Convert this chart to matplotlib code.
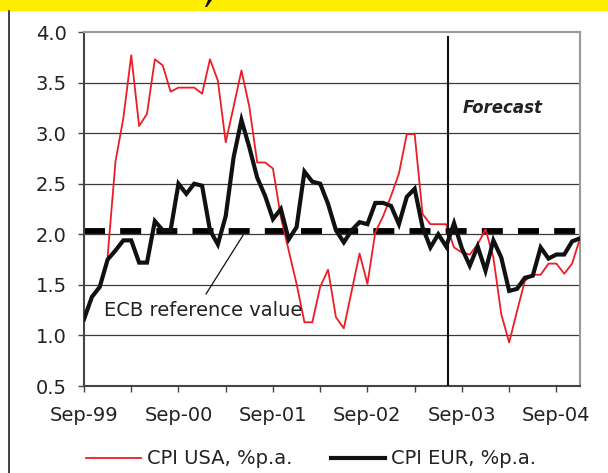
import numpy as np
import matplotlib
matplotlib.use("Agg")
import matplotlib.pyplot as plt
from matplotlib.lines import Line2D
from matplotlib.patches import Rectangle, Polygon

# monthly data, Sep-99 .. Dec-04
cpi_eur = [1.16, 1.38, 1.48, 1.75, 1.84, 1.94, 1.94, 1.72, 1.72, 2.13, 2.04, 2.04,
           2.50, 2.40, 2.50, 2.48, 2.04, 1.90, 2.18, 2.76, 3.13, 2.86, 2.56, 2.38,
           2.15, 2.25, 1.95, 2.07, 2.62, 2.52, 2.50, 2.30, 2.04, 1.92, 2.04, 2.12,
           2.10, 2.31, 2.31, 2.28, 2.10, 2.37, 2.45, 2.07, 1.87, 2.00, 1.88, 2.11,
           1.86, 1.69, 1.88, 1.64, 1.94, 1.77, 1.44, 1.46, 1.57, 1.59, 1.87, 1.76,
           1.80, 1.80, 1.93, 1.96]
cpi_usa = [np.nan, np.nan, np.nan, 1.78, 2.72, 3.15, 3.77, 3.07, 3.19, 3.73, 3.67, 3.41,
           3.45, 3.45, 3.45, 3.39, 3.73, 3.52, 2.91, 3.26, 3.62, 3.26, 2.71, 2.71,
           2.65, 2.17, 1.84, 1.51, 1.13, 1.13, 1.48, 1.65, 1.18, 1.07, 1.44, 1.81,
           1.51, 2.02, 2.18, 2.38, 2.60, 2.99, 2.99, 2.20, 2.10, 2.10, 2.10, 1.87,
           1.82, 1.80, 1.90, 2.05, 1.77, 1.21, 0.93, 1.24, 1.54, 1.60, 1.60, 1.71,
           1.71, 1.61, 1.71, 1.96]
ecb_ref = 2.03
forecast_start = 46.2

year_labels = ["Sep-99", "Sep-00", "Sep-01", "Sep-02", "Sep-03", "Sep-04"]
y_ticks = [0.5, 1.0, 1.5, 2.0, 2.5, 3.0, 3.5, 4.0]

x = np.arange(len(cpi_eur))

plt.rcParams['font.family'] = ['DejaVu Sans']

fig = plt.figure(figsize=(6.08, 4.73), dpi=100)
ax = fig.add_axes([84 / 608, 1 - 386 / 473, 496 / 608, 354 / 473])

# yellow header strip (title cut off above), with the bit of glyph that shows
W, H = 608, 473
fig.patches.append(Rectangle((0, 1 - 11 / H), 1, 11 / H, transform=fig.transFigure,
                             facecolor="#FFED00", edgecolor="none", zorder=0))
fig.patches.append(Polygon([(208 / W, 1), (212 / W, 1), (207 / W, 1 - 7 / H), (205 / W, 1 - 7 / H)],
                           closed=True, transform=fig.transFigure,
                           facecolor="#111111", edgecolor="none", zorder=1))
fig.lines.append(Line2D([9 / W, 9 / W], [0, 1 - 11 / H], transform=fig.transFigure,
                        color="#333333", lw=1.3))

# grid
for yv in y_ticks[1:-1]:
    ax.axhline(yv, color="#3a3a3a", lw=0.9, zorder=1)

ecb = ax.axhline(ecb_ref, color="black", lw=4.2, zorder=2)
ecb.set_dashes((3.6, 2.6))
ecb.set_dash_capstyle("butt")

ax.plot(x, cpi_usa, color="#EE1C25", lw=1.3, zorder=3, label="CPI USA, %p.a.")
ax.plot(x, cpi_eur, color="#111111", lw=3.0, zorder=4, label="CPI EUR, %p.a.",
        solid_joinstyle="miter")

ax.plot([forecast_start, forecast_start], [0.5, 3.95], color="#111111", lw=1.5, zorder=5)
ax.text(53.2, 3.25, "Forecast", fontsize=12, fontweight="bold", style="italic",
        ha="center", va="center", color="#222222")

ax.text(2.6, 1.25, "ECB reference value", fontsize=14, ha="left", va="center",
        color="#222222")
ax.plot([15.5, 20.2], [1.41, 1.99], color="#111111", lw=0.9, zorder=5)

ax.set_xlim(0, len(cpi_eur) - 1)
ax.set_ylim(0.5, 4.0)
ax.set_yticks(y_ticks)
ax.set_yticklabels([f"{v:.1f}" for v in y_ticks])
xt = np.arange(0, len(cpi_eur), 6)
ax.set_xticks(xt)
ax.set_xticklabels([year_labels[i // 2] if i % 2 == 0 else "" for i in range(len(xt))])

ax.tick_params(axis="both", direction="out", length=4.5, width=1.0, color="#444444",
               labelsize=14, labelcolor="#222222")
ax.tick_params(axis="y", pad=8)
ax.tick_params(axis="x", pad=10)

for s in ["left", "bottom"]:
    ax.spines[s].set_color("#444444")
    ax.spines[s].set_linewidth(1.5)
for s in ["top", "right"]:
    ax.spines[s].set_color("#9a9a9a")
    ax.spines[s].set_linewidth(1.5)

fig.legend(loc="center", bbox_to_anchor=(0.512, 0.03), ncol=2, frameon=False,
           fontsize=14, handlelength=2.8, handletextpad=0.3, columnspacing=2.0,
           labelcolor="#222222")

fig.savefig("out.png", dpi=100)
